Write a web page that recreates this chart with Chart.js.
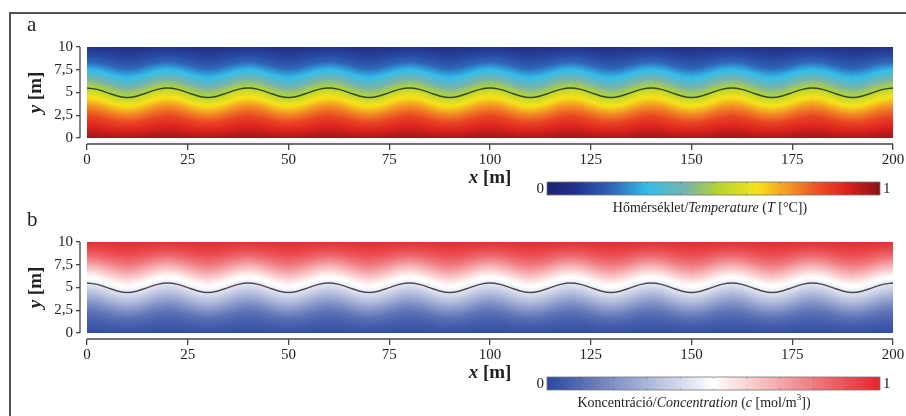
<!DOCTYPE html>
<html>
<head>
<meta charset="utf-8">
<script src="https://cdn.jsdelivr.net/npm/chart.js@4"></script>
<style>
  body { margin: 0; background: #fff; }
  #wrap { position: relative; width: 906px; height: 416px; overflow: hidden; }
  #frame { position: absolute; left: 9px; top: 12px; width: 920px; height: 420px;
           border-left: 2px solid #555; border-top: 2px solid #555; }
  canvas { position: absolute; left: 0; }
  #G1 { top: 0; }
  #G2 { top: 195px; }
</style>
</head>
<body>
<div id="wrap">
  <div id="frame"></div>
  <canvas id="G1" width="906" height="221"></canvas>
  <canvas id="G2" width="906" height="221"></canvas>
</div>
<script>
// axis ticks
const xTicks = [0, 25, 50, 75, 100, 125, 150, 175, 200];
const yTicks = [0, 2.5, 5, 7.5, 10];
const yTickLabels = ['0', '2,5', '5', '7,5', '10'];

// black interface line, read every 2.5 m
const lineX = [0,2.5,5,7.5,10,12.5,15,17.5,20,22.5,25,27.5,30,32.5,35,37.5,40,42.5,45,47.5,
  50,52.5,55,57.5,60,62.5,65,67.5,70,72.5,75,77.5,80,82.5,85,87.5,90,92.5,95,97.5,
  100,102.5,105,107.5,110,112.5,115,117.5,120,122.5,125,127.5,130,132.5,135,137.5,140,142.5,145,147.5,
  150,152.5,155,157.5,160,162.5,165,167.5,170,172.5,175,177.5,180,182.5,185,187.5,190,192.5,195,197.5,200];
const lineY = [5.5,5.35,4.98,4.62,4.45,4.62,4.98,5.35,5.5,5.35,4.98,4.62,4.45,4.62,4.98,5.35,5.5,5.35,4.98,4.62,
  4.45,4.62,4.98,5.35,5.5,5.35,4.98,4.62,4.45,4.62,4.98,5.35,5.5,5.35,4.98,4.62,4.45,4.62,4.98,5.35,
  5.5,5.35,4.98,4.62,4.45,4.62,4.98,5.35,5.5,5.35,4.98,4.62,4.45,4.62,4.98,5.35,5.5,5.35,4.98,4.62,
  4.45,4.62,4.98,5.35,5.5,5.35,4.98,4.62,4.45,4.62,4.98,5.35,5.5,5.35,4.98,4.62,4.45,4.62,4.98,5.35,5.5];

// vertical profiles (value at depth y, measured from the mean interface)
const profY = [0, 1, 2, 3, 4, 5, 6, 7, 8, 9, 10];
const tempProfile = [0.97, 0.9, 0.83, 0.74, 0.63, 0.52, 0.42, 0.31, 0.2, 0.13, 0.08];
const concProfile = [0.02, 0.06, 0.12, 0.22, 0.33, 0.44, 0.54, 0.68, 0.82, 0.92, 0.98];

// colour maps
const jetStops = [0, 0.08, 0.19, 0.3, 0.42, 0.51, 0.63, 0.72, 0.83, 0.9, 1];
const jetColors = ['#1c2470', '#22308a', '#2e62b6', '#33bdea', '#7ab4a8', '#b3d335',
  '#f6e318', '#f39a25', '#ea4523', '#dd221f', '#8a1218'];
const bwrStops = [0, 0.5, 1];
const bwrColors = ['#2b47a0', '#ffffff', '#e6242a'];

const SERIF = '"Liberation Serif", "DejaVu Serif", serif';

function interp(xs, ys, v) {
    if (v <= xs[0]) return ys[0];
    for (let i = 1; i < xs.length; i++) {
        if (v <= xs[i]) {
            const f = (v - xs[i - 1]) / (xs[i] - xs[i - 1]);
            return ys[i - 1] + f * (ys[i] - ys[i - 1]);
        }
    }
    return ys[ys.length - 1];
}

function hexRgb(h) {
    return [parseInt(h.slice(1, 3), 16), parseInt(h.slice(3, 5), 16), parseInt(h.slice(5, 7), 16)];
}

function colorAt(v, stops, cols) {
    const rgb = cols.map(hexRgb);
    return [0, 1, 2].map(k => interp(stops, rgb.map(c => c[k]), v));
}

function drawRuns(ctx, runs, cx, y) {
    let total = 0;
    runs.forEach(r => { ctx.font = r.f; total += ctx.measureText(r.t).width; });
    let x = cx - total / 2;
    ctx.textAlign = 'left';
    runs.forEach(r => {
        ctx.font = r.f;
        ctx.fillText(r.t, x, y + (r.dy || 0));
        x += ctx.measureText(r.t).width;
    });
}

const fieldPlugin = {
    id: 'field',
    beforeDatasetsDraw(chart, args, opts) {
        const ctx = chart.ctx, xs = chart.scales.x, ys = chart.scales.y;
        const l = Math.round(xs.getPixelForValue(0)), r = Math.round(xs.getPixelForValue(200));
        const t = Math.round(ys.getPixelForValue(10)), b = Math.round(ys.getPixelForValue(0));
        const w = r - l, h = b - t;
        const off = document.createElement('canvas');
        off.width = w; off.height = h;
        const octx = off.getContext('2d');
        const img = octx.createImageData(w, h);
        for (let i = 0; i < w; i++) {
            const xv = xs.getValueForPixel(l + i + 0.5);
            const shift = interp(lineX, lineY, xv) - 5;
            for (let j = 0; j < h; j++) {
                const yv = ys.getValueForPixel(t + j + 0.5);
                const taper = Math.max(0, 1 - Math.pow((yv - 5) / 5.5, 2));
                const v = interp(profY, opts.profile, yv - shift * taper);
                const c = colorAt(v, opts.stops, opts.colors);
                const k = (j * w + i) * 4;
                img.data[k] = c[0]; img.data[k + 1] = c[1]; img.data[k + 2] = c[2]; img.data[k + 3] = 255;
            }
        }
        octx.putImageData(img, 0, 0);
        ctx.drawImage(off, l, t);
    },
    afterDraw(chart, args, opts) {
        const ctx = chart.ctx, xs = chart.scales.x, ys = chart.scales.y, ca = chart.chartArea;
        ctx.save();
        ctx.strokeStyle = '#444';
        ctx.lineWidth = 1.3;
        ctx.beginPath();
        ctx.moveTo(ca.left, ys.getPixelForValue(10));
        ctx.lineTo(ca.left, ys.getPixelForValue(0));
        ctx.moveTo(xs.getPixelForValue(0), ca.bottom);
        ctx.lineTo(xs.getPixelForValue(200), ca.bottom);
        ctx.stroke();

        ctx.fillStyle = '#222';
        ctx.textBaseline = 'alphabetic';
        // panel letter
        ctx.font = '21px ' + SERIF;
        ctx.textAlign = 'left';
        ctx.fillText(opts.letter, 27, 31);

        // axis titles
        drawRuns(ctx, [{t: 'x', f: 'italic bold 19px ' + SERIF}, {t: ' [m]', f: 'bold 19px ' + SERIF}],
            (xs.getPixelForValue(0) + xs.getPixelForValue(200)) / 2, 183);
        ctx.save();
        ctx.translate(41, (ys.getPixelForValue(10) + ys.getPixelForValue(0)) / 2);
        ctx.rotate(-Math.PI / 2);
        drawRuns(ctx, [{t: 'y', f: 'italic bold 19px ' + SERIF}, {t: ' [m]', f: 'bold 19px ' + SERIF}], 0, 0);
        ctx.restore();

        // colour bar
        const bx = 547, bw = 333, by = 182, bh = 13;
        const g = ctx.createLinearGradient(bx, 0, bx + bw, 0);
        opts.stops.forEach((s, i) => g.addColorStop(s, opts.colors[i]));
        ctx.fillStyle = g;
        ctx.fillRect(bx, by, bw, bh);
        ctx.strokeStyle = '#777';
        ctx.lineWidth = 0.8;
        ctx.strokeRect(bx, by, bw, bh);
        ctx.strokeStyle = 'rgba(0,0,0,0.25)';
        ctx.beginPath();
        for (let k = 1; k < 10; k++) {
            const px = bx + bw * k / 10;
            ctx.moveTo(px, by); ctx.lineTo(px, by + 2);
            ctx.moveTo(px, by + bh); ctx.lineTo(px, by + bh - 2);
        }
        ctx.stroke();
        ctx.fillStyle = '#222';
        ctx.font = '15px ' + SERIF;
        ctx.textBaseline = 'middle';
        ctx.textAlign = 'right';
        ctx.fillText('0', bx - 3, by + bh / 2 + 1);
        ctx.textAlign = 'left';
        ctx.fillText('1', bx + bw + 3, by + bh / 2 + 1);
        ctx.textBaseline = 'alphabetic';
        drawRuns(ctx, opts.caption, opts.captionX, 212);
        ctx.restore();
    }
};

function makePanel(id, letter, profile, stops, colors, lineColor, caption, captionX) {
    return new Chart(document.getElementById(id), {
        type: 'line',
        data: {
            datasets: [{
                data: lineX.map((x, i) => ({x: x, y: lineY[i]})),
                borderColor: lineColor,
                borderWidth: 1.4,
                pointRadius: 0,
                cubicInterpolationMode: 'monotone',
                fill: false
            }]
        },
        options: {
            responsive: false,
            animation: false,
            devicePixelRatio: 1,
            events: [],
            layout: {padding: {top: 47, right: 13, left: 0, bottom: 0}},
            plugins: {
                legend: {display: false},
                tooltip: {enabled: false},
                field: {letter, profile, stops, colors, caption, captionX}
            },
            scales: {
                x: {
                    type: 'linear', min: -1.74, max: 200,
                    afterBuildTicks: s => { s.ticks = xTicks.map(v => ({value: v})); },
                    afterFit: s => { s.height = 77; },
                    border: {display: false},
                    grid: {drawOnChartArea: false, drawTicks: true, tickLength: 6, color: '#444', lineWidth: 1.3},
                    ticks: {color: '#222', padding: 1, maxRotation: 0, font: {family: SERIF, size: 15}}
                },
                y: {
                    type: 'linear', min: -0.66, max: 10,
                    afterBuildTicks: s => { s.ticks = yTicks.map(v => ({value: v})); },
                    afterFit: s => { s.width = 80; },
                    border: {display: false},
                    grid: {drawOnChartArea: false, drawTicks: true, tickLength: 4, color: '#444', lineWidth: 1.3},
                    ticks: {color: '#222', padding: 3, font: {family: SERIF, size: 15},
                        callback: v => yTickLabels[yTicks.indexOf(v)]}
                }
            }
        },
        plugins: [fieldPlugin]
    });
}

const N = '14px ' + SERIF, I = 'italic 14px ' + SERIF;
makePanel('G1', 'a', tempProfile, jetStops, jetColors, '#2e4a2c', [
    {t: 'Hőmérséklet/', f: N}, {t: 'Temperature', f: I}, {t: ' (', f: N},
    {t: 'T', f: I}, {t: ' [°C])', f: N}], 710);
makePanel('G2', 'b', concProfile, bwrStops, bwrColors, '#4a4a4a', [
    {t: 'Koncentráció/', f: N}, {t: 'Concentration', f: I}, {t: ' (', f: N},
    {t: 'c', f: I}, {t: ' [mol/m', f: N}, {t: '3', f: '9px ' + SERIF, dy: -7}, {t: '])', f: N}], 694);
</script>
</body>
</html>
